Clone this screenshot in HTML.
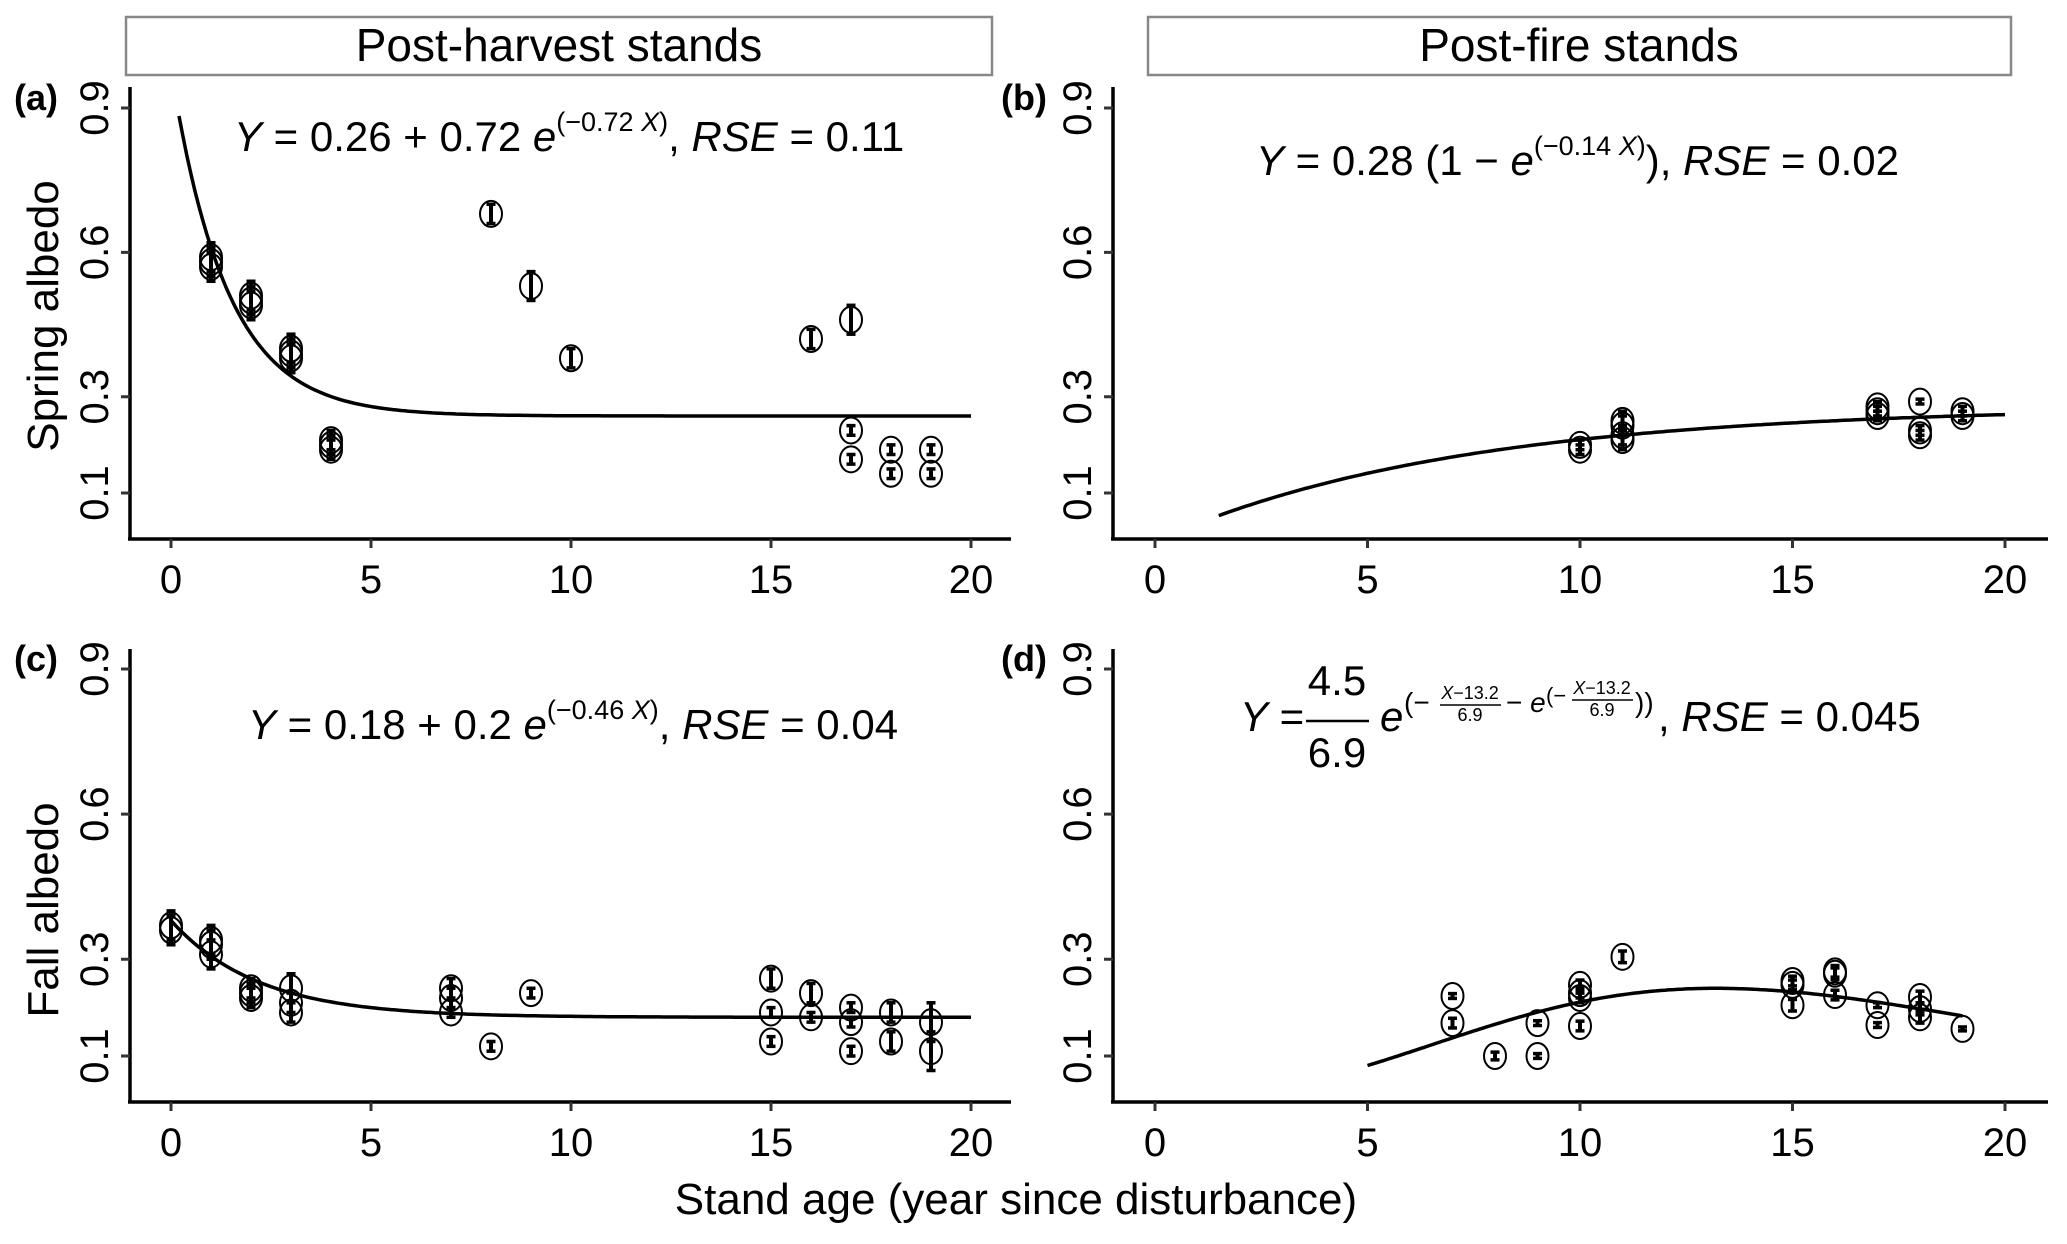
<!DOCTYPE html>
<html><head><meta charset="utf-8"><style>
html,body{margin:0;padding:0;background:#fff}
svg{display:block;font-family:"Liberation Sans",Arial,sans-serif}
</style></head><body>
<svg id="fig" width="2067" height="1244" viewBox="0 0 2067 1244" xmlns="http://www.w3.org/2000/svg">
<g><rect x="126" y="17" width="866" height="58" fill="#fff" stroke="#888" stroke-width="2.5"/><text x="559" y="61" font-size="46" text-anchor="middle">Post-harvest stands</text></g>
<g><rect x="1148" y="17" width="863" height="58" fill="#fff" stroke="#888" stroke-width="2.5"/><text x="1579" y="61" font-size="46" text-anchor="middle">Post-fire stands</text></g>
<text transform="translate(58,316) rotate(-90)" font-size="44" text-anchor="middle">Spring albedo</text>
<text transform="translate(58,910) rotate(-90)" font-size="44" text-anchor="middle">Fall albedo</text>
<text x="1016" y="1214" font-size="44" text-anchor="middle">Stand age (year since disturbance)</text>

<text x="234" y="151" font-size="42"><tspan font-style="italic">Y</tspan> = 0.26 + 0.72 <tspan font-style="italic">e</tspan><tspan dy="-20" font-size="27">(−0.72 <tspan font-style="italic">X</tspan>)</tspan><tspan dy="20">, </tspan><tspan font-style="italic">RSE</tspan> = 0.11</text>
<text x="1256" y="175" font-size="42"><tspan font-style="italic">Y</tspan> = 0.28 (1 − <tspan font-style="italic">e</tspan><tspan dy="-20" font-size="27">(−0.14 <tspan font-style="italic">X</tspan>)</tspan><tspan dy="20">), </tspan><tspan font-style="italic">RSE</tspan> = 0.02</text>
<text x="248" y="739" font-size="42"><tspan font-style="italic">Y</tspan> = 0.18 + 0.2 <tspan font-style="italic">e</tspan><tspan dy="-20" font-size="27">(−0.46 <tspan font-style="italic">X</tspan>)</tspan><tspan dy="20">, </tspan><tspan font-style="italic">RSE</tspan> = 0.04</text>
<g font-size="42">
<text x="1240" y="731"><tspan font-style="italic">Y</tspan> =</text>
<text x="1337" y="695" text-anchor="middle">4.5</text>
<line x1="1306" y1="721" x2="1369" y2="721" stroke="#000" stroke-width="2.5"/>
<text x="1337" y="767" text-anchor="middle">6.9</text>
<text x="1380" y="731" font-style="italic">e</text>
<text x="1404" y="712" font-size="28">(−</text>
<text x="1470" y="699" font-size="18" text-anchor="middle"><tspan font-style="italic">X</tspan>−13.2</text>
<line x1="1440" y1="705" x2="1501" y2="705" stroke="#000" stroke-width="1.5"/>
<text x="1470" y="721" font-size="18" text-anchor="middle">6.9</text>
<text x="1506" y="712" font-size="28">− <tspan font-style="italic">e</tspan></text>
<text x="1546" y="703" font-size="22">(−</text>
<text x="1602" y="694" font-size="18" text-anchor="middle"><tspan font-style="italic">X</tspan>−13.2</text>
<line x1="1572" y1="700" x2="1633" y2="700" stroke="#000" stroke-width="1.5"/>
<text x="1602" y="716" font-size="18" text-anchor="middle">6.9</text>
<text x="1635" y="712" font-size="28">))</text>
<text x="1658" y="731">, <tspan font-style="italic">RSE</tspan> = 0.045</text>
</g>
</svg>
<script>
// ---- data ----
const xTicks = [0, 5, 10, 15, 20];
const yTicks = [0.1, 0.3, 0.6, 0.9];
const yTickLabels = ["0.1", "0.3", "0.6", "0.9"];
const aX = [1,1,1,2,2,2,3,3,3,4,4,4,8,9,10,16,17,17,17,18,18,19,19];
const aY = [0.59,0.58,0.57,0.51,0.50,0.49,0.40,0.39,0.38,0.21,0.20,0.19,0.68,0.53,0.38,0.42,0.46,0.23,0.17,0.19,0.14,0.19,0.14];
const aE = [0.03,0.03,0.03,0.03,0.03,0.03,0.03,0.03,0.03,0.02,0.02,0.02,0.02,0.03,0.02,0.02,0.03,0.01,0.01,0.01,0.01,0.01,0.01];
const bX = [10,10,11,11,11,11,17,17,17,18,18,18,19,19];
const bY = [0.20,0.19,0.25,0.24,0.22,0.21,0.28,0.27,0.26,0.29,0.23,0.22,0.27,0.26];
const bE = [0.01,0.01,0.02,0.02,0.02,0.02,0.01,0.01,0.01,0.005,0.01,0.01,0.01,0.01];
const cX = [0,0,1,1,1,2,2,2,3,3,3,7,7,7,8,9,15,15,15,16,16,17,17,17,18,18,19,19];
const cY = [0.37,0.36,0.34,0.33,0.31,0.24,0.23,0.22,0.24,0.21,0.19,0.24,0.22,0.19,0.12,0.23,0.26,0.19,0.13,0.23,0.18,0.20,0.17,0.11,0.19,0.13,0.17,0.11];
const cE = [0.03,0.03,0.03,0.03,0.03,0.02,0.02,0.02,0.03,0.02,0.02,0.02,0.02,0.01,0.01,0.01,0.02,0.01,0.01,0.02,0.01,0.01,0.01,0.01,0.02,0.02,0.04,0.04];
const dX = [7,7,8,9,9,10,10,10,10,11,15,15,15,16,16,16,17,17,18,18,18,19];
const dY = [0.224,0.168,0.10,0.168,0.10,0.247,0.23,0.22,0.162,0.305,0.255,0.247,0.205,0.275,0.27,0.226,0.205,0.164,0.222,0.197,0.18,0.156];
const dE = [0.005,0.01,0.008,0.005,0.005,0.01,0.01,0.01,0.01,0.012,0.01,0.01,0.012,0.012,0.012,0.01,0.005,0.005,0.012,0.012,0.012,0.004];

const NS = "http://www.w3.org/2000/svg";
const svg = document.getElementById('fig');
function mk(tag, attrs, parent){const e=document.createElementNS(NS,tag);for(const k in attrs)e.setAttribute(k,attrs[k]);(parent||svg).appendChild(e);return e;}

const panels = [
 {id:'a', label:'(a)', lx:14, ly:110, axX:130, x0:171, x20:971, xr:1011, y01:493, y09:108, axY:539, top:87, xs:aX, ys:aY, es:aE, f:x=>0.26+0.72*Math.exp(-0.72*x), fx:[0.2,20]},
 {id:'b', label:'(b)', lx:1001, ly:110, axX:1113, x0:1155, x20:2005, xr:2048, y01:493, y09:108, axY:539, top:87, xs:bX, ys:bY, es:bE, f:x=>0.28*(1-Math.exp(-0.14*x)), fx:[1.5,20]},
 {id:'c', label:'(c)', lx:14, ly:671, axX:130, x0:171, x20:971, xr:1011, y01:1056, y09:669, axY:1102, top:649, xs:cX, ys:cY, es:cE, f:x=>0.18+0.2*Math.exp(-0.46*x), fx:[0,20]},
 {id:'d', label:'(d)', lx:1001, ly:671, axX:1113, x0:1155, x20:2005, xr:2048, y01:1056, y09:669, axY:1102, top:649, xs:dX, ys:dY, es:dE, f:x=>4.5/6.9*Math.exp(-(x-13.2)/6.9-Math.exp(-(x-13.2)/6.9)), fx:[5,19]}
];

panels.forEach(p=>{
  const sx = v => p.x0 + (v/20)*(p.x20-p.x0);
  const sy = v => p.y01 - (v-0.1)/0.8*(p.y01-p.y09);
  const g = mk('g',{});
  
  
  const lab = mk('text',{x:p.lx,y:p.ly,'font-size':36,'font-weight':'bold'},g);
  lab.textContent = p.label;
  
  
  const ya = mk('line',{x1:p.axX,y1:p.top,x2:p.axX,y2:p.axY,stroke:'#000','stroke-width':3.5},g);
  
  
  const xa = mk('line',{x1:p.axX-2,y1:p.axY,x2:p.xr,y2:p.axY,stroke:'#000','stroke-width':3.5},g);
  
  
  xTicks.forEach(t=>{
    mk('line',{x1:sx(t),y1:p.axY,x2:sx(t),y2:p.axY+9,stroke:'#333','stroke-width':3},g);
    const tl = mk('text',{x:sx(t),y:p.axY+54,'font-size':40,'text-anchor':'middle'},g);
    tl.textContent = t;
    
    
  });
  yTicks.forEach((t,i)=>{
    mk('line',{x1:p.axX-9,y1:sy(t),x2:p.axX,y2:sy(t),stroke:'#333','stroke-width':3},g);
    const tl = mk('text',{transform:`translate(${p.axX-22},${sy(t)}) rotate(-90)`,'font-size':40,'text-anchor':'middle'},g);
    tl.textContent = yTickLabels[i];
    
    
  });
  p.xs.forEach((xv,i)=>{
    const cx=sx(xv), cy=sy(p.ys[i]);
    const pt = mk('g',{},g);
    
    
    mk('ellipse',{cx:cx,cy:cy,rx:11,ry:13,fill:'none',stroke:'#000','stroke-width':2},pt);
    const y1=sy(p.ys[i]+p.es[i]), y2=sy(p.ys[i]-p.es[i]);
    mk('line',{x1:cx,y1:y1,x2:cx,y2:y2,stroke:'#000','stroke-width':4},pt);
    mk('line',{x1:cx-4.5,y1:y1,x2:cx+4.5,y2:y1,stroke:'#000','stroke-width':3.5},pt);
    mk('line',{x1:cx-4.5,y1:y2,x2:cx+4.5,y2:y2,stroke:'#000','stroke-width':3.5},pt);
  });
  let d='';
  const n=200;
  for(let k=0;k<=n;k++){const xv=p.fx[0]+(p.fx[1]-p.fx[0])*k/n;d+=(k?'L':'M')+sx(xv).toFixed(1)+','+sy(p.f(xv)).toFixed(1);}
  const c = mk('path',{d:d,fill:'none',stroke:'#000','stroke-width':3.5},g);
  
  
});
</script>
</body></html>
